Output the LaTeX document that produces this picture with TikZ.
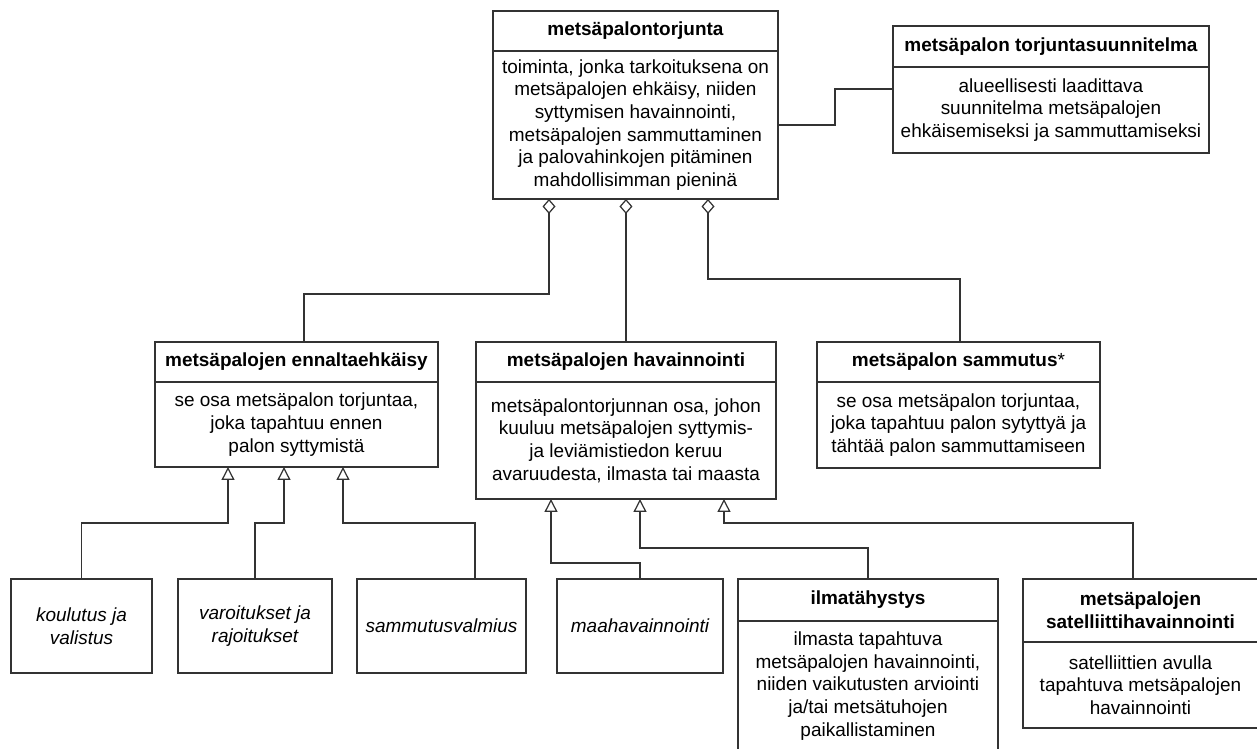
\documentclass[tikz,border=0pt]{standalone}
\usepackage{fontspec}
\setmainfont{Liberation Sans}
\usetikzlibrary{arrows.meta,positioning,calc}
\definecolor{linegray}{RGB}{51,51,51}
\newcommand{\diafont}{\fontsize{10.8}{12.9}\selectfont}

\begin{document}
\begin{tikzpicture}[x=0.02cm, y=-0.02cm,
        head/.style={rectangle, draw=linegray, line width=0.7pt, fill=white, align=center, inner sep=0pt, outer sep=0pt, minimum height=0.8cm, font=\diafont\bfseries},
        desc/.style={rectangle, draw=linegray, line width=0.7pt, fill=white, align=center, inner sep=0pt, outer sep=0pt, font=\diafont},
        leaf/.style={desc, minimum height=1.88cm, font=\diafont\itshape},
        agg/.style={draw=linegray, line width=0.7pt, {Diamond[open, length=0.30cm, width=0.26cm]}-},
        gen/.style={draw=linegray, line width=0.7pt, -{Triangle[open, length=0.26cm, width=0.26cm]}},
        link/.style={draw=linegray, line width=0.7pt}
    ]
        \useasboundingbox (0,0) rectangle (1257,749);
        % top level
        \node[head, anchor=north west, minimum width=5.70cm] (torjuntaA) at (493,11) {metsäpalontorjunta};
        \node[desc, below=0pt of torjuntaA, minimum width=5.70cm, minimum height=2.96cm] (torjuntaB) {toiminta, jonka tarkoituksena on\\ metsäpalojen ehkäisy, niiden\\ syttymisen havainnointi,\\ metsäpalojen sammuttaminen\\ ja palovahinkojen pitäminen\\ mahdollisimman pieninä};
        \node[head, anchor=north west, minimum width=6.32cm, minimum height=0.82cm] (planA) at (893,26) {metsäpalon torjuntasuunnitelma};
        \node[desc, below=0pt of planA, minimum width=6.32cm, minimum height=1.72cm] (planB) {alueellisesti laadittava\\ suunnitelma metsäpalojen\\ ehkäisemiseksi ja sammuttamiseksi};
        % second row
        \node[head, anchor=north west, minimum width=5.66cm] (ennaltaA) at (155,342) {metsäpalojen ennaltaehkäisy};
        \node[desc, below=0pt of ennaltaA, minimum width=5.66cm, minimum height=1.70cm] (ennaltaB) {se osa metsäpalon torjuntaa,\\ joka tapahtuu ennen\\ palon syttymistä};
        \node[head, anchor=north west, minimum width=6.00cm] (havainA) at (476,342) {metsäpalojen havainnointi};
        \node[desc, below=0pt of havainA, minimum width=6.00cm, minimum height=2.34cm] (havainB) {metsäpalontorjunnan osa, johon\\ kuuluu metsäpalojen syttymis-\\ ja leviämistiedon keruu\\ avaruudesta, ilmasta tai maasta};
        \node[head, anchor=north west, minimum width=5.66cm] (sammutusA) at (817,342) {metsäpalon sammutus{\mdseries *}};
        \node[desc, below=0pt of sammutusA, minimum width=5.66cm, minimum height=1.72cm] (sammutusB) {se osa metsäpalon torjuntaa,\\ joka tapahtuu palon sytyttyä ja\\ tähtää palon sammuttamiseen};
        % bottom row
        \node[leaf, anchor=north west, minimum width=2.82cm] (koulutus) at (11,579) {koulutus ja\\ valistus};
        \node[leaf, anchor=north west, minimum width=3.08cm] (varoitukset) at (178,579) {varoitukset ja\\ rajoitukset};
        \node[leaf, anchor=north west, minimum width=3.38cm] (valmius) at (357,579) {sammutusvalmius};
        \node[leaf, anchor=north west, minimum width=3.32cm] (maahav) at (557,579) {maahavainnointi};
        \node[head, anchor=north west, minimum width=5.20cm, minimum height=0.84cm] (ilmaA) at (738,579) {ilmatähystys};
        \node[desc, below=0pt of ilmaA, minimum width=5.20cm, minimum height=2.60cm] (ilmaB) {ilmasta tapahtuva\\ metsäpalojen havainnointi,\\ niiden vaikutusten arviointi\\ ja/tai metsätuhojen\\ paikallistaminen};
        \node[head, anchor=north west, minimum width=4.70cm, minimum height=1.26cm] (satA) at (1023,579) {metsäpalojen\\ satelliittihavainnointi};
        \node[desc, below=0pt of satA, minimum width=4.70cm, minimum height=1.72cm] (satB) {satelliittien avulla\\ tapahtuva metsäpalojen\\ havainnointi};
        % connectors
        \draw[link] (torjuntaB.east) -- ++(57,0) |- ($(planB.west)+(0,-21)$);
        \draw[agg] ($(torjuntaB.south west)+(56,0)$) -- ++(0,95) -| ($(ennaltaA.north west)+(149,0)$);
        \draw[agg] (havainA.north |- torjuntaB.south) -- (havainA.north);
        \draw[agg] ($(torjuntaB.south west)+(215,0)$) -- ++(0,80) -| ($(sammutusA.north west)+(143,0)$);
        \draw[gen] (koulutus.north) -- ++(0,-56) -| ($(ennaltaB.south west)+(73,0)$);
        \draw[gen] (varoitukset.north) -- ++(0,-56) -| ($(ennaltaB.south west)+(129,0)$);
        \draw[gen] ($(valmius.north west)+(118,0)$) -- ++(0,-56) -| ($(ennaltaB.south west)+(188,0)$);
        \draw[gen] (maahav.north) -- ++(0,-16) -| ($(havainB.south west)+(75,0)$);
        \draw[gen] (ilmaA.north) -- ++(0,-31) -| ($(havainB.south west)+(164,0)$);
        \draw[gen] ($(satA.north west)+(110,0)$) -- ++(0,-56) -| ($(havainB.south west)+(248,0)$);
    \end{tikzpicture}
\end{document}
